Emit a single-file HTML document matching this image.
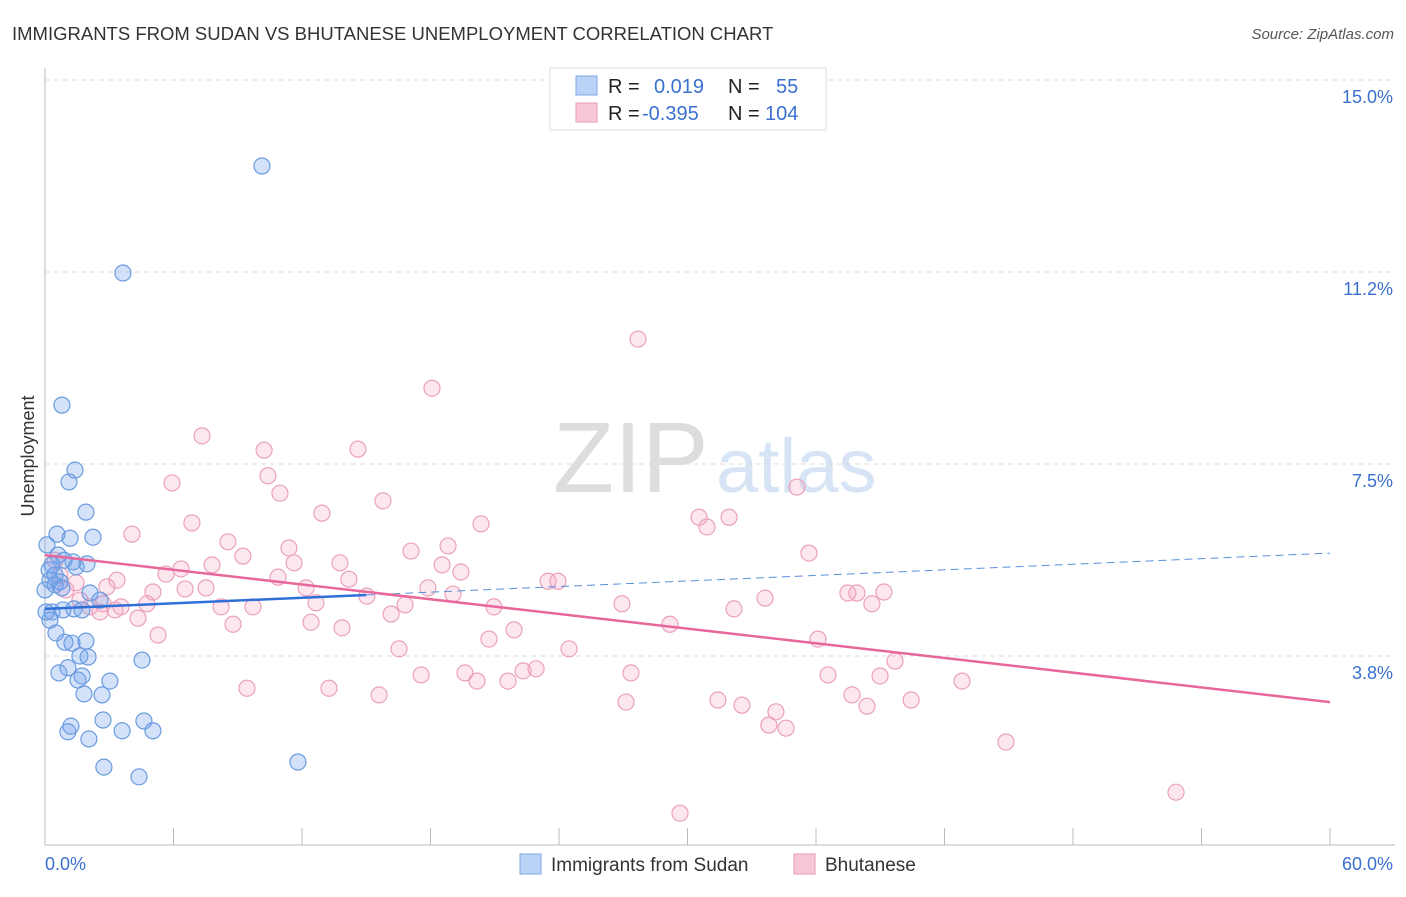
<!DOCTYPE html>
<html><head><meta charset="utf-8"><style>
body{margin:0;background:#fff;font-family:"Liberation Sans",sans-serif}
svg text{font-family:"Liberation Sans",sans-serif}
</style></head><body>
<svg id="chart" width="1406" height="892" xmlns="http://www.w3.org/2000/svg">
<text x="12" y="40" font-size="18.5" fill="#333">IMMIGRANTS FROM SUDAN VS BHUTANESE UNEMPLOYMENT CORRELATION CHART</text>
<text x="1394" y="39" font-size="15" fill="#555" text-anchor="end" font-style="italic">Source: ZipAtlas.com</text>
<text x="34" y="456" font-size="18" fill="#333" text-anchor="middle" transform="rotate(-90 34 456)">Unemployment</text>
<text x="553" y="492" font-size="100" fill="#ddd" font-family="Liberation Serif">ZIP</text>
<text x="716" y="492" font-size="76" fill="#d6e4f5">atlas</text>
<g id="grid"></g><g id="axes"></g><g id="pts"></g><g id="trend"></g>
<g>
<rect x="550" y="68" width="276" height="62" fill="#fff" stroke="#ddd"/>
<rect x="576" y="76" width="21" height="19" fill="#b9d2f5" stroke="#7aa7e6"/>
<rect x="576" y="103" width="21" height="19" fill="#f8c7d6" stroke="#eb9ab5"/>
<text x="608" y="93" font-size="20" fill="#222">R =  <tspan fill="#3a70d0" x="654">0.019</tspan><tspan fill="#222" x="728">N =</tspan><tspan fill="#3a70d0" x="776">55</tspan></text>
<text x="608" y="120" font-size="20" fill="#222">R = <tspan fill="#3a70d0" x="642">-0.395</tspan><tspan fill="#222" x="728">N =</tspan><tspan fill="#3a70d0" x="765">104</tspan></text>
</g>
<g>
<rect x="520" y="854" width="21" height="20" fill="#b9d2f5" stroke="#7aa7e6"/>
<text x="551" y="871" font-size="19" fill="#333">Immigrants from Sudan</text>
<rect x="794" y="854" width="21" height="20" fill="#f8c7d6" stroke="#eb9ab5"/>
<text x="825" y="871" font-size="19" fill="#333">Bhutanese</text>
</g>
</svg>
<script>
const yTicks=[15.0,11.25,7.5,3.75];
const yTickLabels=["15.0%","11.2%","7.5%","3.8%"];
const xTickLabels=["0.0%","60.0%"];
const sudanX=[10.13,3.64,0.79,1.40,1.12,1.91,0.56,2.24,1.17,0.09,0.61,0.89,1.31,1.96,0.33,1.45,0.23,0.70,0.47,0.79,2.10,1.35,1.73,0.33,0.23,0.51,0.93,1.91,1.26,1.63,2.01,4.53,1.07,0.65,1.73,1.54,3.03,1.82,2.66,2.71,4.62,1.21,1.07,3.60,5.04,2.05,2.75,11.81,4.39,0.05,0.19,0.47,0.84,0,2.57];
const sudanY=[13.32,11.23,8.65,7.38,7.15,6.56,6.13,6.07,6.05,5.92,5.72,5.62,5.59,5.55,5.53,5.49,5.23,5.20,5.14,5.08,4.98,4.67,4.65,4.61,4.45,4.20,4.02,4.04,4.00,3.75,3.73,3.67,3.52,3.42,3.36,3.28,3.26,3.01,2.99,2.50,2.48,2.38,2.27,2.29,2.29,2.13,1.58,1.68,1.39,4.61,5.43,5.33,4.65,5.04,4.84];
const bhuX=[27.69,18.07,7.33,10.23,14.61,5.93,10.41,10.97,15.78,35.11,12.93,6.86,20.36,30.54,31.94,30.91,4.06,8.54,11.39,18.82,17.09,35.67,9.24,13.77,7.80,6.35,11.63,18.54,19.42,5.65,10.88,14.19,3.36,23.49,23.95,12.19,1.45,6.54,7.52,5.04,17.88,15.03,19.05,37.49,37.91,39.17,33.62,4.76,3.55,2.71,2.10,12.65,8.22,9.71,16.81,20.96,26.94,32.17,38.61,4.34,16.16,8.78,12.42,13.87,21.90,20.73,29.18,36.09,5.28,16.53,24.47,39.69,22.93,22.32,19.61,27.36,20.17,21.62,17.56,36.56,38.99,42.82,9.43,13.26,15.60,37.68,27.13,31.42,32.54,40.44,38.38,34.13,33.80,34.60,44.87,52.81,29.65,2.89,1.63,2.57,0.70,0.98,3.27,0.47];
const bhuY=[9.94,8.98,8.05,7.77,7.79,7.13,7.27,6.93,6.78,7.05,6.54,6.35,6.33,6.46,6.46,6.27,6.13,5.98,5.86,5.90,5.80,5.76,5.70,5.57,5.53,5.45,5.57,5.53,5.39,5.35,5.29,5.25,5.23,5.21,5.21,5.08,5.18,5.06,5.08,5.00,5.08,4.92,4.96,4.98,4.98,5.00,4.88,4.77,4.71,4.77,4.71,4.79,4.71,4.71,4.75,4.71,4.77,4.67,4.77,4.49,4.57,4.37,4.41,4.30,4.26,4.08,4.37,4.08,4.16,3.89,3.89,3.65,3.50,3.46,3.42,3.42,3.26,3.26,3.38,3.38,3.36,3.26,3.12,3.12,2.99,2.99,2.85,2.89,2.79,2.89,2.77,2.66,2.40,2.34,2.07,1.09,0.68,5.10,4.84,4.61,5.33,5.04,4.65,5.62];
const sudanTrend=[4.67,5.76];
const bhuTrend=[5.72,2.85];
const NS="http://www.w3.org/2000/svg";
const X=v=>45+v/60*1285;
const Y=v=>80+(15-v)*51.2;
function mk(tag,attrs,parent){const e=document.createElementNS(NS,tag);for(const k in attrs)e.setAttribute(k,attrs[k]);document.getElementById(parent).appendChild(e);return e;}
yTicks.forEach((t,i)=>{
  const g=mk('line',{x1:45,x2:1395,y1:Y(t),y2:Y(t),stroke:'#ddd','stroke-dasharray':'5,4'},'grid');
  
  
  const l=mk('text',{x:1393,y:Y(t)+23,'font-size':18,fill:'#3a70d0','text-anchor':'end'},'grid');
  l.textContent=yTickLabels[i];
  
  
});
const ax=mk('line',{x1:45,x2:45,y1:68,y2:845,stroke:'#bbb'},'axes');


const bx=mk('line',{x1:45,x2:1395,y1:845,y2:845,stroke:'#bbb'},'axes');


for(let i=0;i<=10;i++){
  const t=mk('line',{x1:X(i*6),x2:X(i*6),y1:828,y2:845,stroke:'#bbb'},'axes');
  
  
}
[[0,'start',45],[60,'end',1393]].forEach((d,i)=>{
  const l=mk('text',{x:d[2],y:870,'font-size':18,fill:'#3a70d0','text-anchor':d[1]},'axes');
  l.textContent=xTickLabels[i];
  
  
});
bhuX.forEach((x,i)=>{
  const c=mk('circle',{cx:X(x),cy:Y(bhuY[i]),r:8,fill:'rgba(244,160,190,0.25)',stroke:'#eba0bb','stroke-width':1.2},'pts');
  
  
});
sudanX.forEach((x,i)=>{
  const c=mk('circle',{cx:X(x),cy:Y(sudanY[i]),r:8,fill:'rgba(110,160,235,0.3)',stroke:'#6a9be0','stroke-width':1.2},'pts');
  
  
});
const sy=x=>sudanTrend[0]+(sudanTrend[1]-sudanTrend[0])*x/60;
const s1=mk('line',{x1:X(0),y1:Y(sy(0)),x2:X(15),y2:Y(sy(15)),stroke:'#2f6fd6','stroke-width':2.5},'trend');


const s2=mk('line',{x1:X(15),y1:Y(sy(15)),x2:X(60),y2:Y(sy(60)),stroke:'#5a8fdc','stroke-width':1,'stroke-dasharray':'8,5'},'trend');


const p=mk('line',{x1:X(0),y1:Y(bhuTrend[0]),x2:X(60),y2:Y(bhuTrend[1]),stroke:'#e8679a','stroke-width':2.5},'trend');


</script>
</body></html>
